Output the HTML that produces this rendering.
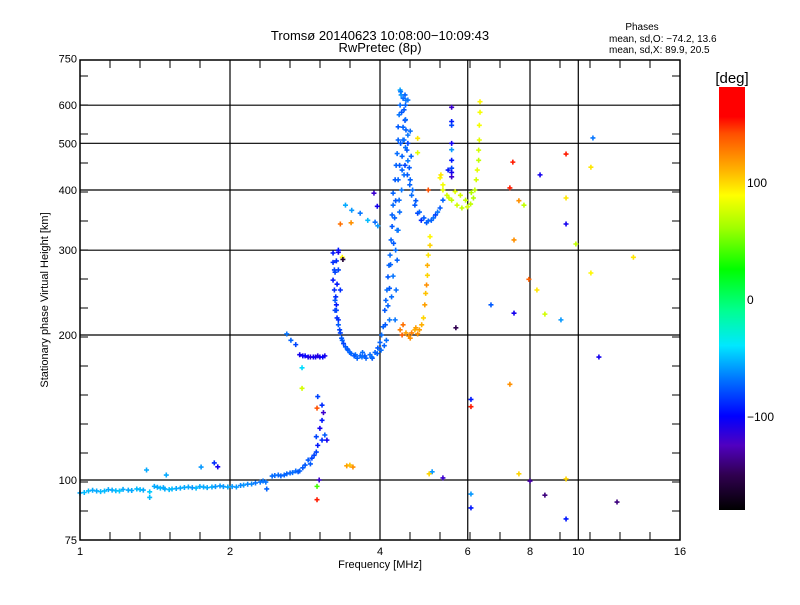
<!DOCTYPE html>
<html><head><meta charset="utf-8"><style>
html,body{margin:0;padding:0;background:#fff;}
svg text{font-family:"Liberation Sans",sans-serif;fill:#000;}
</style></head><body>
<svg id="chart" width="800" height="600" viewBox="0 0 800 600" xmlns="http://www.w3.org/2000/svg">
<defs>
<linearGradient id="cbar" x1="0" y1="1" x2="0" y2="0">
<stop offset="0" stop-color="#000000"/><stop offset="0.083" stop-color="#300050"/><stop offset="0.153" stop-color="#5000c0"/>
<stop offset="0.222" stop-color="#0000ff"/><stop offset="0.306" stop-color="#0070ff"/><stop offset="0.389" stop-color="#00e8ff"/>
<stop offset="0.472" stop-color="#00ff90"/><stop offset="0.569" stop-color="#00ff00"/><stop offset="0.667" stop-color="#a0ff00"/>
<stop offset="0.744" stop-color="#ffff00"/><stop offset="0.806" stop-color="#ffb000"/><stop offset="0.889" stop-color="#ff5000"/>
<stop offset="0.93" stop-color="#ff0000"/><stop offset="1" stop-color="#ff0000"/>
</linearGradient>
</defs>
<text x="380" y="40" font-size="13" text-anchor="middle">Tromsø 20140623 10:08:00−10:09:43</text>
<text x="380" y="52" font-size="13" text-anchor="middle">RwPretec (8p)</text>
<text x="642" y="30" font-size="10" text-anchor="middle">Phases</text>
<text x="609" y="42" font-size="10">mean, sd,O: −74.2, 13.6</text>
<text x="609" y="53" font-size="10">mean, sd,X:  89.9, 20.5</text>
<g id="grid"></g>
<g id="marks"></g>
<g id="axes"></g>
<text x="380" y="568" font-size="11" text-anchor="middle">Frequency [MHz]</text>
<text x="48" y="300" font-size="11" text-anchor="middle" transform="rotate(-90 48 300)">Stationary phase Virtual Height [km]</text>
<text x="732" y="83" font-size="15" text-anchor="middle">[deg]</text>
<rect x="719" y="87" width="26" height="423" fill="url(#cbar)"/>
<g id="cbticks"></g>
</svg>
<script>
const xTicks=[1,2,4,6,8,10,16];
const yTicks=[75,100,200,300,400,500,600,750];
const xGrid=[2,4,6,8,10];
const yGrid=[100,200,300,400,500,600];
const cbTicks=[100,0,-100];
// E-layer trace
const eFreq=[1,1.04,1.08,1.12,1.16,1.2,1.25,1.3,1.34,1.38,1.41,1.45,1.48,1.53,1.59,1.65,1.71,1.77,1.84,1.91,1.98,2.06,2.13,2.21,2.3,2.36,2.43,2.5,2.57,2.64,2.71,2.76,2.83,2.87,2.92,2.98,3.0,3.06,3.03,3.06,3.08,3.06,3.0,3.1,3.13,2.98,1.36,1.49,1.75,1.86,1.89,1.38,2.37];
const eHeight=[94,94.9,94.9,94.9,95.3,94.9,95.3,95.8,95.3,94.5,97,96.2,95.8,95.8,96.2,96.7,96.2,96.7,96.7,97.2,96.7,96.7,97.6,98.1,99,99,101.9,102.4,102.4,103.4,104.4,104.4,107.4,110,111,114.3,118,121,128,133,138,143,149,124,121,123,104.9,102.4,106.4,108.5,106.5,92,95.8];
const ePhase=[-55,-50,-55,-50,-55,-45,-55,-50,-55,-45,-55,-50,-55,-50,-55,-55,-50,-55,-55,-60,-55,-60,-60,-65,-70,-70,-75,-75,-80,-80,-75,-80,-85,-85,-90,-90,-100,-95,-110,-100,-120,-95,-90,-85,-110,-90,-55,-55,-60,-95,-110,-50,-80];
const e2Freq=[1.02,1.06,1.1,1.14,1.18,1.22,1.27,1.32,1.43,1.47,1.51,1.56,1.62,1.68,1.74,1.8,1.87,1.94,2.02,2.1,2.17,2.25,2.33,2.46,2.53,2.6,2.67,2.74,2.8,2.9,2.95];
const e2Height=[94.2,95.2,94.6,95.5,95,95.6,95.1,95.5,96.6,96.4,95.5,96,96.5,96.4,96.9,96.4,96.9,96.9,96.9,97.4,98,98.6,99.5,102.2,102,103,103.6,104,106,108,112.5];
const e2Phase=[-50,-55,-50,-55,-50,-55,-55,-50,-55,-55,-50,-55,-55,-60,-55,-55,-60,-60,-60,-65,-65,-70,-70,-75,-80,-80,-75,-85,-85,-85,-90];
// F-layer O-mode trace
const oFreq=[3.22,3.22,3.24,3.22,3.24,3.25,3.25,3.28,3.3,3.33,3.36,3.41,3.48,3.57,3.65,3.73,3.82,3.91,3.96,4.0,4.03,4.06,4.09,4.11,4.13,4.15,4.17,4.19,4.21,4.23,4.23,4.25,4.25,4.29,4.31,4.33,4.35,4.35,4.37,4.39,4.41,4.39,4.49,4.47,4.49,4.51,4.47,4.53,4.49,4.54,4.59,4.63,4.7,4.76,4.84,4.96,5.07,5.17,5.28,5.35,4.29,4.31,4.33,4.35,4.37,4.43,4.45,4.51,3.33,3.3,3.27,3.45,3.69,3.86,3.6,3.41,3.51,3.65,3.78,3.91,3.96];
const oHeight=[296,283,273,260,248,236,225,217,210,202,195,189,184,182,181,181,182,184,188,193,200,208,225,236,248,264,279,293,315,336,355,372,394,420,450,476,508,541,573,600,630,645,630,587,558,533,508,484,450,430,410,390,372,358,346,342,346,355,367,381,215,248,286,330,381,440,508,614,248,273,231,186,184,179,179,372,363,358,346,343,337];
const oPhase=[-100,-95,-90,-100,-95,-85,-90,-95,-85,-90,-80,-85,-80,-75,-80,-85,-75,-80,-85,-80,-75,-80,-85,-80,-75,-85,-80,-75,-80,-85,-80,-75,-80,-85,-80,-75,-80,-85,-70,-75,-60,-55,-80,-85,-90,-80,-75,-85,-90,-85,-80,-75,-85,-90,-95,-85,-80,-90,-85,-80,-70,-75,-80,-70,-75,-80,-75,-70,-95,-90,-100,-80,-75,-85,-80,-55,-60,-70,-50,-75,-60];
// O-mode band (additional echoes)
const o2Freq=[4.40,4.45,4.50,4.55,4.42,4.50,4.45,4.55,4.40,4.50,4.43,4.55,4.38,4.47,4.35,4.42,4.30,4.38,4.28,4.33,4.26,4.30,4.20,4.25,4.18,4.22,4.15,4.18,4.10,4.12,4.08,4.02,3.95,3.85,3.75,3.68,3.55,3.50,3.44,3.38,3.35,3.32,3.30,3.27,3.26,3.28,3.25,3.27,3.30,4.6,4.65,4.72,4.8,4.9,5.0,5.12,5.22,4.58,4.62,4.55,4.6];
const o2Height=[640,620,600,615,580,560,540,520,500,490,470,460,450,430,420,400,380,360,350,330,310,300,280,265,250,240,230,215,210,195,190,186,183,180,179,180,181,183,187,192,197,205,215,225,240,255,270,285,300,420,400,380,360,350,345,350,360,445,470,500,530];
const o2Phase=[-70,-75,-80,-70,-85,-75,-80,-70,-85,-75,-80,-70,-85,-75,-80,-70,-85,-75,-80,-70,-85,-75,-80,-70,-85,-75,-80,-70,-85,-75,-80,-75,-80,-75,-80,-75,-85,-80,-85,-90,-85,-90,-95,-90,-95,-100,-90,-95,-100,-80,-75,-85,-80,-85,-80,-75,-70,-85,-80,-90,-75];
// Low F trace ~180 km
const lFreq=[2.76,2.8,2.83,2.87,2.9,2.94,2.97,3.0,3.03,3.07,3.1,2.6,2.65,2.71];
const lHeight=[182,181,181,180,180,180,180,181,180,180,181,201,195,191];
const lPhase=[-110,-110,-105,-110,-115,-110,-110,-115,-110,-105,-110,-70,-80,-90];
// X-mode trace 1
const x1Freq=[4.39,4.45,4.51,4.57,4.63,4.7,4.76,4.8,4.85,4.89,4.92,4.94,4.96,4.98,4.98,5.0,5.04,5.04,4.43,4.6,4.72];
const x1Height=[205,210,202,199,202,205,201,205,210,217,231,244,254,266,279,293,307,320,200,197,207];
const x1Phase=[125,130,115,120,125,110,120,115,110,100,115,105,120,100,110,95,100,90,135,120,115];
// X-mode trace 2
const x2Freq=[5.35,5.45,5.57,5.71,5.84,5.99,6.08,6.16,6.2,6.24,6.27,6.31,6.31,6.33,6.33,6.35,6.35,5.8,5.94,5.66,5.28,5.35,5.5,6.1];
const x2Height=[400,390,381,372,367,369,374,385,400,420,440,461,484,508,545,580,610,390,381,397,424,410,385,395];
const x2Phase=[80,75,70,75,70,75,70,65,70,75,80,70,75,80,85,85,90,75,70,80,90,85,75,65];
// Scattered echoes
const sFreq=[5.57,5.57,5.57,5.57,5.57,5.57,5.57,5.57,5.57,5.48,10.7,9.45,10.6,7.39,8.38,7.29,7.6,7.78,9.45,9.45,9.89,7.43,12.9,10.6,7.96,8.26,6.68,7.43,8.57,9.23,5.68,11.0,7.29,6.09,6.09,5.09,5.02,5.35,7.6,8.0,9.45,6.09,8.57,11.96,6.09,9.45,3.43,3.48,3.53,2.79,2.79,2.99,2.99,2.99,3.02,3.33,3.5,3.3,3.36,3.37,3.89,3.95,4.76,4.76,5.0,5.3];
const sHeight=[594,555,545,500,485,461,444,435,426,440,513,475,446,457,430,404,380,372,385,340,309,315,290,269,261,248,231,222,221,215,207,180,158,147,142,104,103,101,103,99.5,100.5,93.5,93,90,87.5,83,107,107.4,106.4,155,171,141,91,97,100,340,342,297,290,287,394,370,512,478,400,430];
const sPhase=[-120,-100,-90,-110,-60,-100,-90,-110,-120,-100,-70,150,95,150,-110,150,120,70,95,-110,70,120,95,90,135,95,-85,-110,75,-60,-150,-110,120,-100,150,-60,100,-120,100,-130,100,-60,-140,-140,-100,-100,115,105,120,75,-40,140,150,40,-120,130,120,-110,90,-160,-120,-110,95,80,140,95];

const X0=80,X1=680,Y0=60,Y1=540;
const xs=f=>X0+150*Math.log2(f);
const ys=h=>480-145*Math.log2(h/100);
const NS="http://www.w3.org/2000/svg";
function mk(tag,attrs,parent){const e=document.createElementNS(NS,tag);for(const k in attrs)e.setAttribute(k,attrs[k]);parent.appendChild(e);return e;}
const stops=[[-180,[0,0,0]],[-150,[48,0,80]],[-125,[80,0,192]],[-105,[0,0,255]],[-85,[0,90,255]],[-70,[10,120,255]],[-40,[0,220,255]],[-10,[0,255,144]],[25,[0,255,0]],[60,[160,255,0]],[88,[255,255,0]],[110,[255,176,0]],[140,[255,80,0]],[155,[255,0,0]],[180,[255,0,0]]];
function col(p){for(let i=1;i<stops.length;i++){if(p<=stops[i][0]){const a=stops[i-1],b=stops[i];const t=(p-a[0])/(b[0]-a[0]);const c=a[1].map((v,j)=>Math.round(v+(b[1][j]-v)*t));return `rgb(${c[0]},${c[1]},${c[2]})`;}}return "rgb(255,0,0)";}
const grid=document.getElementById('grid');
xGrid.forEach(f=>{const l=mk('line',{x1:xs(f),x2:xs(f),y1:Y0,y2:Y1,stroke:'#000','stroke-width':1.2},grid);

});
yGrid.forEach(h=>{const l=mk('line',{x1:X0,x2:X1,y1:ys(h),y2:ys(h),stroke:'#000','stroke-width':1.2},grid);

});
const marks=document.getElementById('marks');
function plot(F,H,P,name){for(let i=0;i<F.length;i++){const x=xs(F[i]),y=ys(H[i]);
const p=mk('path',{d:`M${x-2.5} ${y}h5M${x} ${y-2.5}v5`,stroke:col(P[i]),'stroke-width':1.6,fill:'none'},marks);

}}
plot(eFreq,eHeight,ePhase,'e-layer-point');
plot(e2Freq,e2Height,e2Phase,'e-layer-point');
plot(lFreq,lHeight,lPhase,'low-f-point');
plot(oFreq,oHeight,oPhase,'o-mode-point');
plot(o2Freq,o2Height,o2Phase,'o-mode-point');
plot(x1Freq,x1Height,x1Phase,'x-mode-point');
plot(x2Freq,x2Height,x2Phase,'x-mode-2-point');
plot(sFreq,sHeight,sPhase,'scatter-point');
const axes=document.getElementById('axes');
const frame=mk('rect',{x:X0,y:Y0,width:X1-X0,height:Y1-Y0,fill:'none',stroke:'#000','stroke-width':1.5},axes);


for(let k=1;k<20;k++){const x=X0+30*k;if(k%5===0)continue;
mk('line',{x1:x,x2:x,y1:Y1,y2:Y1-8,stroke:'#000'},axes);mk('line',{x1:x,x2:x,y1:Y0,y2:Y0+8,stroke:'#000'},axes);}
for(let y=540;y>60;y-=29){mk('line',{x1:X0,x2:X0+8,y1:y,y2:y,stroke:'#000'},axes);mk('line',{x1:X1,x2:X1-8,y1:y,y2:y,stroke:'#000'},axes);}
xTicks.forEach(f=>{const t=mk('text',{x:xs(f),y:555,'font-size':11,'text-anchor':'middle'},axes);t.textContent=f;

});
yTicks.forEach(h=>{const t=mk('text',{x:77,y:ys(h)+4,'font-size':11,'text-anchor':'end'},axes);t.textContent=h;

});
const cb=document.getElementById('cbticks');
cbTicks.forEach(v=>{const t=mk('text',{x:747,y:300-1.17*v+4,'font-size':12},cb);t.textContent=(v<0?'−':'')+Math.abs(v);

});
</script>
</body></html>
